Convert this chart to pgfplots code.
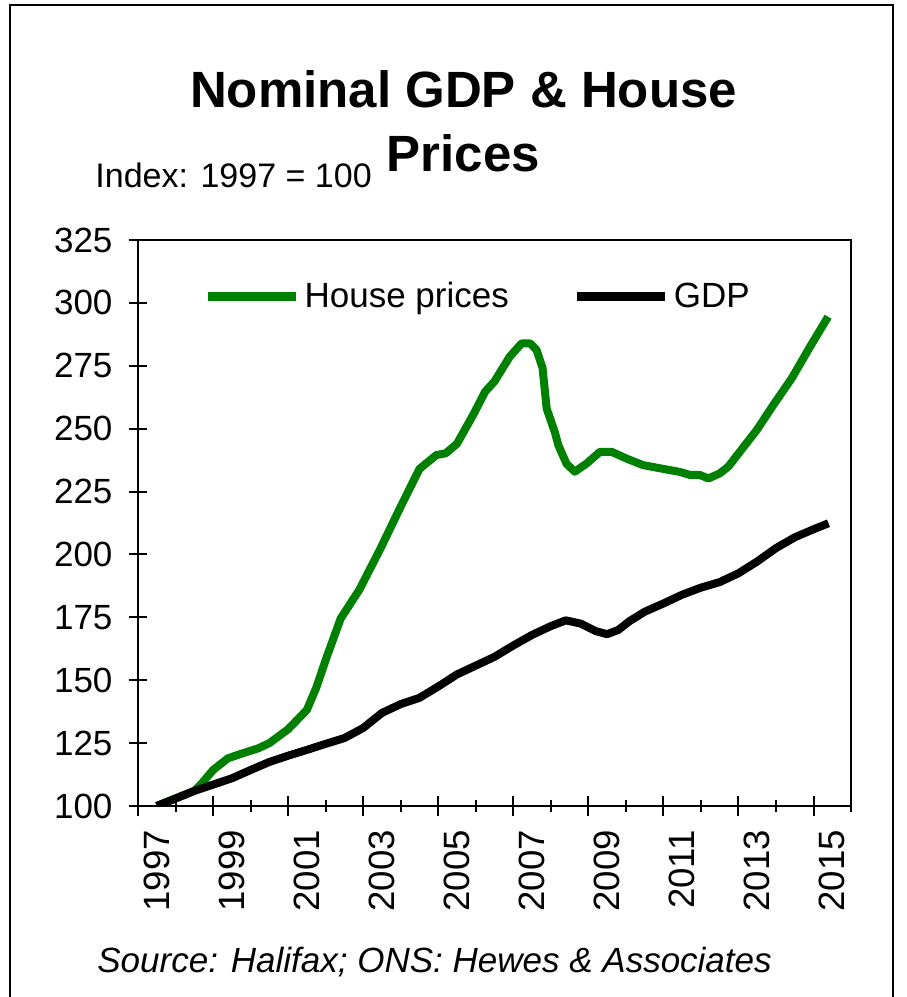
\documentclass[border=0pt]{standalone}
\usepackage{fontspec}
\setmainfont{Liberation Sans}
\usepackage{pgfplots}
\pgfplotsset{compat=1.18}
\definecolor{hpgreen}{RGB}{0,128,0}

\begin{document}
\begin{tikzpicture}
\path[use as bounding box] (0,0) rectangle (453pt,498.5pt);
% outer frame (open at the bottom)
\draw[line width=1pt] (5pt,0) -- (5pt,496pt) -- (446.5pt,496pt) -- (446.5pt,0);

\node[anchor=base, inner sep=0pt, font=\fontsize{25.5}{30}\selectfont\bfseries]
  at (231.75pt,444.5pt) {Nominal GDP \& House};
\node[anchor=base, inner sep=0pt, font=\fontsize{25.5}{30}\selectfont\bfseries]
  at (231.75pt,412.5pt) {Prices};
\node[anchor=base west, inner sep=0pt, font=\fontsize{17}{21}\selectfont]
  at (47.5pt,404.5pt) {Index: 1997 = 100};
\node[anchor=base west, inner sep=0pt, font=\fontsize{17.5}{21}\selectfont\itshape]
  at (48.5pt,12.5pt) {Source: Halifax; ONS: Hewes \& Associates};

\begin{axis}[
  at={(69pt,95.5pt)}, anchor=south west,
  scale only axis, width=356.5pt, height=283pt,
  xmin=1996.5, xmax=2015.5,
  ymin=100, ymax=325,
  ytick={100,125,...,325},
  xtick={1996.5,1998.5,...,2014.5},
  xticklabels={},
  minor xtick={1997.5,1999.5,...,2015.5},
  extra x ticks={1997,1999,...,2015},
  extra x tick style={major tick length=0pt},
  tick pos=left,
  tick align=center,
  major tick length=9.5pt,
  minor tick length=5.5pt,
  tick style={black, line width=1pt},
  axis line style={line width=1pt},
  every axis plot/.append style={line join=round},
  tick label style={font=\fontsize{17.5}{21}\selectfont},
  /pgf/number format/assume math mode=true,
  /pgf/number format/1000 sep={},
  xticklabel style={rotate=90, anchor=east, font=\fontsize{18.3}{21}\selectfont},
  xticklabel shift=8.5pt,
  yticklabel shift=4.5pt,
  legend columns=2,
  legend style={at={(0.083,0.9)}, anchor=west, draw=none, fill=none,
    font=\fontsize{17.5}{21}\selectfont,
    /tikz/every even column/.append style={column sep=30pt}},
  legend image code/.code={\draw[#1, line width=4.5pt] (0pt,0pt) -- (44pt,0pt);},
]
\addplot[hpgreen, line width=4pt] coordinates {
(1997.0,100) (1997.5,103) (1998.0,106) (1998.2,109) (1998.5,114.3)
(1998.9,119) (1999.3,121) (1999.7,122.9) (2000.0,125) (2000.5,130.5)
(2001.0,138.2) (2001.25,147) (2001.5,158) (2001.9,174.5) (2002.4,186)
(2002.95,202) (2003.5,219) (2004.0,234) (2004.45,239.5) (2004.7,240.2)
(2005.0,244) (2005.45,256) (2005.75,264.7) (2006.0,268.8) (2006.4,278.5)
(2006.72,283.9) (2006.95,283.9) (2007.12,281.3) (2007.28,274.2) (2007.39,258)
(2007.61,248.5) (2007.7,243.5) (2007.92,236) (2008.14,232.9) (2008.46,236.2)
(2008.81,240.8) (2009.12,240.8) (2009.52,238.1) (2009.96,235.5) (2010.5,234)
(2010.94,232.8) (2011.21,231.6) (2011.47,231.6) (2011.7,230.2) (2012.0,232.2)
(2012.23,234.9) (2012.99,249.5) (2013.43,259.4) (2013.92,270) (2014.41,282.6)
(2014.89,294.5)
};
\addlegendentry{House prices}
\addplot[black, line width=4pt] coordinates {
(1997.0,100) (1997.5,103) (1998.0,106) (1998.5,108.5) (1999.0,111)
(1999.5,114.3) (2000.0,117.5) (2000.5,120) (2001.0,122.3) (2001.5,124.7)
(2002.0,127) (2002.5,131) (2003.0,137) (2003.5,140.5) (2004.0,143)
(2004.5,147.5) (2005.0,152.3) (2005.5,155.8) (2006.0,159.3) (2006.5,163.8)
(2007.0,168) (2007.5,171.5) (2007.9,173.8) (2008.3,172.5) (2008.7,169.5)
(2009.0,168.3) (2009.3,170) (2009.6,173.5) (2010.0,177.2) (2010.5,180.5)
(2011.0,184) (2011.5,186.8) (2012.0,189) (2012.5,192.5) (2013.0,197.2)
(2013.5,202.5) (2014.0,206.8) (2014.5,210) (2014.9,212.4)
};
\addlegendentry{GDP}
\end{axis}
\end{tikzpicture}
\end{document}
